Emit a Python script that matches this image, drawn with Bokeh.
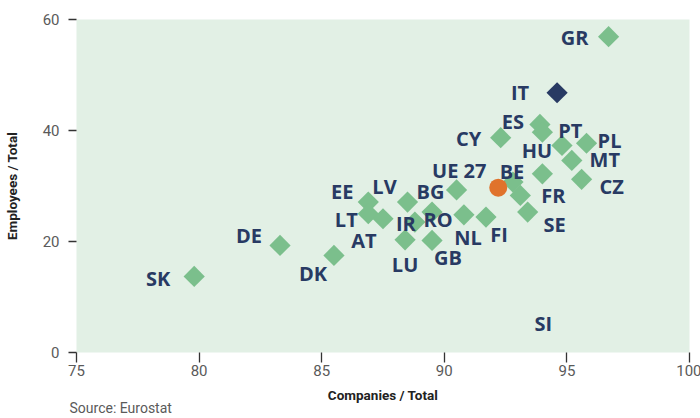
import numpy as np
from bokeh.plotting import figure
from bokeh.models import ColumnDataSource, Range1d, FixedTicker, Title
from bokeh.core.properties import value
from bokeh.embed import file_html
from bokeh.resources import INLINE

# ---- data ----
countries = ["SK", "DE", "DK", "EE", "LT", "AT", "LV", "IR", "LU", "RO", "GB", "BG", "NL", "FI",
             "BE", "FR", "SE", "SI", "CY", "ES", "PT", "HU", "PL", "MT", "CZ", "GR", "IT"]
companies = [79.8, 83.3, 85.5, 86.9, 86.9, 87.5, 88.5, 88.8, 88.4, 89.5, 89.5, 90.5, 90.8, 91.7,
             92.8, 93.1, 93.4, 94.0, 92.3, 93.9, 94.0, 94.8, 95.8, 95.2, 95.6, 96.7, 94.6]
employees = [13.7, 19.3, 17.5, 27.1, 25.0, 24.1, 27.1, 23.5, 20.3, 25.3, 20.2, 29.3, 24.8, 24.4,
             30.7, 28.3, 25.3, 32.2, 38.7, 41.1, 39.7, 37.3, 37.7, 34.6, 31.2, 56.9, 46.8]
highlight = "IT"
eu_label = ["UE 27"]
eu_companies = [92.2]
eu_employees = [29.7]
x_ticks = [75, 80, 85, 90, 95, 100]
y_ticks = [0, 20, 40, 60]
source_text = "Source: Eurostat"

# label placement (screen pixel offsets, style only)
label_dx = [-36, -31, -21, -26, -22, -19, -23, -9, 0, 6, 16, -26, 4, 13,
            -1, 33, 27, 1, -32, -27, 28, -25, 23, 33, 30, -34, -37]
label_dy = [2, -10, 18, -11, 6, 22, -16, 1, 25, 7, 17, 2, 23, 17,
            -11, 0, 12, 150, 1, -3, -2, 5, -3, -1, 7, 1, 0]

BG = "#e2f0e5"
GREEN = "#7bbf8c"
NAVY = "#283a63"
ORANGE = "#e0732c"
TICK = "#5a5a5a"

p = figure(frame_width=613, frame_height=333, output_backend="svg", toolbar_location=None,
           x_range=Range1d(75, 100), y_range=Range1d(0, 60),
           min_border_left=75, min_border_right=12, min_border_top=19, min_border_bottom=66)
p.background_fill_color = BG
p.border_fill_color = "white"
p.outline_line_color = None
p.grid.grid_line_color = None

for ax in (p.xaxis, p.yaxis):
    ax.axis_line_color = None
    ax.major_tick_in = 0
    ax.minor_tick_line_color = None
    ax.major_tick_line_color = "#333333"
    ax.major_tick_line_width = 1.3
    ax.major_label_text_font = "Roboto"
    ax.major_label_text_font_size = "15px"
    ax.major_label_text_color = TICK
    ax.axis_label_text_font = "Roboto"
    ax.axis_label_text_font_style = "bold"
    ax.axis_label_text_font_size = "13.5px"
    ax.axis_label_text_color = "#222222"

p.xaxis.ticker = FixedTicker(ticks=x_ticks)
p.yaxis.ticker = FixedTicker(ticks=y_ticks)
p.xaxis.major_tick_out = 10
p.yaxis.major_tick_out = 8
p.xaxis.major_label_standoff = 2
p.yaxis.major_label_standoff = 9
p.xaxis.axis_label = "Companies / Total"
p.yaxis.axis_label = "Employees / Total"
p.xaxis.axis_label_standoff = 8
p.yaxis.axis_label_standoff = 20

colors = [NAVY if c == highlight else GREEN for c in countries]
src = ColumnDataSource(dict(x=companies, y=employees, name=countries, color=colors,
                            dx=label_dx, dy=label_dy))
order = sorted(range(len(countries)), key=lambda i: countries[i] == highlight)
src_markers = ColumnDataSource(dict(x=[companies[i] for i in order],
                                    y=[employees[i] for i in order],
                                    color=[colors[i] for i in order]))
p.scatter("x", "y", source=src_markers, marker="square", size=15, angle=np.pi / 4,
          fill_color="color", line_color=None)

eu_src = ColumnDataSource(dict(x=eu_companies, y=eu_employees, name=eu_label,
                               dx=[-39], dy=[-17]))
p.scatter("x", "y", source=eu_src, marker="circle", size=18, fill_color=ORANGE, line_color=None)

for s in (src, eu_src):
    p.text("x", "y", text="name", source=s, x_offset="dx", y_offset="dy",
           text_align="center", text_baseline="middle",
           text_font=value("Open Sans"), text_font_style="bold",
           text_font_size="20px", text_color=NAVY)

p.add_layout(Title(text=source_text, align="left", offset=-7, standoff=-20,
                   text_font="Roboto", text_font_size="14px", text_font_style="normal",
                   text_color=TICK), "below")

open("out.html", "w").write(file_html(p, INLINE))
